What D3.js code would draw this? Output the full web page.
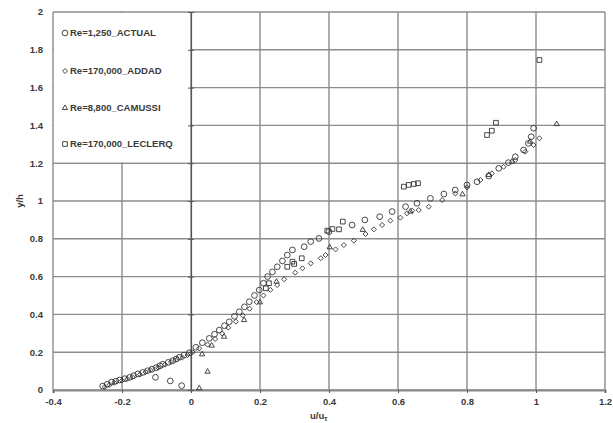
<!DOCTYPE html>
<html>
<head>
<meta charset="utf-8">
<title>Velocity profile</title>
<script src="https://d3js.org/d3.v7.min.js"></script>
<style>
body { margin: 0; background: #fff; }
.tick-lbl { font-family: "Liberation Sans", Arial, sans-serif; font-size: 9.5px; font-weight: bold; fill: #3a3a3a; }
.grid { stroke: #8c8c8c; stroke-width: 1.4; }
.mk { fill: none; stroke: #333; stroke-width: 0.9; }
</style>
</head>
<body>
<script>
// tick values
var xTicks = [-0.4, -0.2, 0, 0.2, 0.4, 0.6, 0.8, 1, 1.2];
var yTicks = [0, 0.2, 0.4, 0.6, 0.8, 1, 1.2, 1.4, 1.6, 1.8, 2];

// Re=1,250 ACTUAL (circles) [u/u_tau, y/h]
var actual = [
  [-0.256,0.021],[-0.243,0.03],[-0.230,0.042],[-0.218,0.047],[-0.207,0.053],[-0.192,0.06],[-0.178,0.067],
  [-0.166,0.076],[-0.154,0.085],[-0.14,0.093],[-0.126,0.102],[-0.113,0.11],[-0.101,0.118],[-0.09,0.128],
  [-0.082,0.136],[-0.066,0.146],[-0.053,0.155],[-0.043,0.164],[-0.034,0.173],[-0.02,0.185],[-0.005,0.197],
  [-0.103,0.067],[-0.06,0.048],[-0.027,0.023],
  [0.014,0.226],[0.033,0.25],[0.053,0.273],[0.068,0.295],[0.082,0.317],[0.097,0.34],[0.111,0.361],
  [0.126,0.39],[0.14,0.414],[0.155,0.44],[0.169,0.467],[0.184,0.5],[0.198,0.529],[0.21,0.565],[0.222,0.6],
  [0.236,0.625],[0.25,0.652],[0.265,0.683],[0.279,0.714],[0.294,0.741],[0.328,0.758],[0.347,0.785],
  [0.371,0.802],[0.4,0.838],[0.467,0.873],[0.504,0.9],[0.547,0.917],[0.583,0.944],[0.622,0.97],
  [0.655,0.988],[0.694,1.014],[0.733,1.037],[0.766,1.058],[0.8,1.085],[0.829,1.102],[0.863,1.132],
  [0.892,1.173],[0.92,1.203],[0.94,1.234],[0.964,1.27],[0.978,1.305],[0.986,1.34],[0.993,1.385]
];

// Re=170,000 ADDAD (diamonds)
var addad = [
  [-0.25,0.016],[-0.236,0.028],[-0.222,0.038],[-0.2,0.05],[-0.185,0.058],[-0.17,0.068],[-0.148,0.082],
  [-0.132,0.095],[-0.118,0.105],[-0.095,0.118],[-0.075,0.135],[-0.058,0.148],[-0.04,0.162],[-0.025,0.172],
  [-0.01,0.185],[0.005,0.2],[0.024,0.22],[0.048,0.24],[0.07,0.27],[0.09,0.3],[0.108,0.33],[0.13,0.362],
  [0.15,0.395],[0.17,0.43],[0.19,0.465],[0.21,0.5],[0.23,0.53],[0.25,0.555],[0.27,0.586],[0.302,0.621],
  [0.323,0.644],[0.347,0.67],[0.376,0.697],[0.39,0.714],[0.419,0.744],[0.443,0.767],[0.472,0.79],
  [0.506,0.825],[0.53,0.85],[0.554,0.873],[0.578,0.896],[0.607,0.912],[0.626,0.935],[0.641,0.949],
  [0.66,0.952],[0.689,0.97],[0.728,1.005],[0.766,1.04],[0.8,1.072],[0.839,1.111],[0.872,1.146],
  [0.906,1.181],[0.94,1.217],[0.969,1.261],[0.993,1.296],[1.01,1.332]
];

// Re=8,800 CAMUSSI (triangles)
var camussi = [
  [0.024,0.009],[0.048,0.097],[0.032,0.189],[0.06,0.235],[0.096,0.282],[0.154,0.37],[0.2,0.464],
  [0.248,0.573],[0.402,0.755],[0.498,0.847],[0.636,0.944],[0.787,1.035],[0.863,1.138],[0.93,1.208],
  [0.983,1.314],[1.06,1.407]
];

// Re=170,000 LECLERQ (squares)
var leclerq = [
  [0.217,0.538],[0.226,0.565],[0.279,0.652],[0.294,0.679],[0.299,0.667],[0.321,0.697],
  [0.395,0.843],[0.41,0.852],[0.429,0.85],[0.44,0.891],
  [0.617,1.076],[0.631,1.085],[0.646,1.09],[0.658,1.094],
  [0.858,1.349],[0.872,1.372],[0.884,1.414],[1.01,1.746]
];

var series = [
  {name: "Re=1,250_ACTUAL", data: actual, shape: "circle"},
  {name: "Re=170,000_ADDAD", data: addad, shape: "diamond"},
  {name: "Re=8,800_CAMUSSI", data: camussi, shape: "triangle"},
  {name: "Re=170,000_LECLERQ", data: leclerq, shape: "square"}
];

var W = 613, H = 423;
var x = d3.scaleLinear().domain([-0.4, 1.2]).range([53, 605]);
var y = d3.scaleLinear().domain([0, 2]).range([390, 12]);
var fmt = function(d) { return String(d); };   // plain hyphen minus like the original

var svg = d3.select("body").append("svg").attr("width", W).attr("height", H);

// grid
svg.append("g").selectAll("line").data(yTicks).join("line")
  .attr("class", "grid")
  .attr("x1", x(-0.4)).attr("x2", x(1.2))
  .attr("y1", function(d) { return y(d); }).attr("y2", function(d) { return y(d); });
svg.append("g").selectAll("line").data(xTicks).join("line")
  .attr("class", "grid")
  .attr("y1", y(0)).attr("y2", y(2))
  .attr("x1", function(d) { return x(d); }).attr("x2", function(d) { return x(d); });

// legend box covering grid in top-left
svg.append("rect")
  .attr("x", x(-0.4) + 1).attr("y", y(2) + 1)
  .attr("width", x(0) - x(-0.4) - 2).attr("height", y(1.2) - y(2) - 2)
  .attr("fill", "#fff");

// bottom axis
svg.append("g")
  .attr("transform", "translate(0," + y(0) + ")")
  .call(d3.axisBottom(x).tickValues(xTicks).tickSize(3).tickFormat(fmt))
  .call(function(g) {
    g.select(".domain").attr("stroke", "#8a8a8a").attr("stroke-width", 2);
    g.selectAll(".tick line").attr("stroke", "#555");
    g.selectAll("text").attr("class", "tick-lbl").attr("dy", "0.9em");
  });

// vertical axis crossing at u=0
svg.append("g")
  .attr("transform", "translate(" + x(0) + ",0)")
  .call(d3.axisLeft(y).tickValues(yTicks).tickSize(3).tickFormat(""))
  .call(function(g) {
    g.select(".domain").attr("stroke", "#555").attr("stroke-width", 1.2);
    g.selectAll(".tick line").attr("stroke", "#555").attr("x2", 3).attr("x1", -3);
  });

// y tick labels at the left edge
svg.append("g").selectAll("text").data(yTicks).join("text")
  .attr("class", "tick-lbl")
  .attr("x", 43).attr("y", function(d) { return y(d); })
  .attr("dy", "0.35em").attr("text-anchor", "end")
  .text(fmt);

// markers
function shapePath(shape) {
  var sz = {circle: 26, diamond: 16, triangle: 20, square: 28}[shape];
  var t = {circle: d3.symbolCircle, diamond: d3.symbolDiamond2, triangle: d3.symbolTriangle2, square: d3.symbolSquare2}[shape];
  return d3.symbol().type(t).size(sz)();
}
series.forEach(function(s) {
  svg.append("g").selectAll("path").data(s.data).join("path")
    .attr("class", "mk")
    .attr("d", shapePath(s.shape))
    .attr("transform", function(d) { return "translate(" + x(d[0]) + "," + y(d[1]) + ")"; });
});

// legend
var lg = svg.append("g");
var legY = [33, 71, 108, 144];
series.forEach(function(s, i) {
  lg.append("path").attr("class", "mk")
    .attr("d", shapePath(s.shape))
    .attr("transform", "translate(65," + legY[i] + ")");
  lg.append("text").attr("class", "tick-lbl")
    .attr("x", 70).attr("y", legY[i]).attr("dy", "0.35em")
    .text(s.name);
});

// axis titles
var xt = svg.append("text").attr("class", "tick-lbl")
  .attr("x", x(0.37)).attr("y", 419).attr("text-anchor", "middle");
xt.append("tspan").text("u/u");
xt.append("tspan").attr("dy", 2).attr("font-size", "7px").text("τ");

svg.append("text").attr("class", "tick-lbl")
  .attr("transform", "translate(23," + y(1) + ") rotate(-90)")
  .attr("text-anchor", "middle")
  .text("y/h");
</script>
</body>
</html>
